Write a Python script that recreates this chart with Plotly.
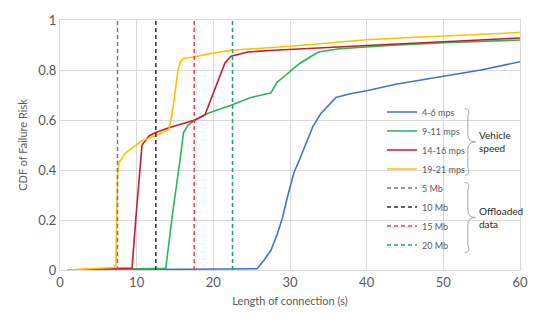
import plotly.graph_objects as go

# Empirical CDFs of failure risk versus connection length, per vehicle speed
speed_labels = ["4-6 mps", "9-11 mps", "14-16 mps", "19-21 mps"]
speed_colors = ["#4472C4", "#2DB35A", "#C0202A", "#FFC000"]

x_4_6 = [1, 10, 20, 25.7, 26.5, 27.5, 28.3, 29, 29.6, 30.5, 31.3, 32, 33, 34, 35.2, 36, 37.7, 40, 43.8, 47.2, 50, 54.9, 60]
y_4_6 = [0, 0.002, 0.003, 0.005, 0.035, 0.078, 0.14, 0.207, 0.284, 0.388, 0.446, 0.5, 0.575, 0.625, 0.665, 0.69, 0.704, 0.717, 0.743, 0.762, 0.775, 0.80, 0.833]

x_9_11 = [1, 5, 10, 13.8, 14.6, 15.2, 15.7, 16.1, 16.7, 17.6, 19.3, 22.3, 24.9, 27.0, 27.5, 28.3, 30, 31.3, 33.7, 36.5, 42.9, 50, 60]
y_9_11 = [0, 0.003, 0.005, 0.007, 0.207, 0.33, 0.45, 0.549, 0.58, 0.6, 0.627, 0.659, 0.69, 0.705, 0.708, 0.75, 0.795, 0.827, 0.872, 0.885, 0.898, 0.909, 0.92]

x_14_16 = [1, 5, 9.4, 9.9, 10.5, 10.7, 11.6, 12.4, 14.2, 16.1, 17.6, 18.9, 20.2, 21.5, 22.3, 24.5, 27.9, 30, 35, 40, 45, 50, 55, 60]
y_14_16 = [0, 0.004, 0.008, 0.21, 0.44, 0.50, 0.536, 0.549, 0.569, 0.588, 0.60, 0.62, 0.724, 0.827, 0.855, 0.872, 0.879, 0.883, 0.89, 0.898, 0.905, 0.913, 0.92, 0.928]

x_19_21 = [1, 3, 5, 7, 7.3, 7.5, 7.7, 8.6, 9.5, 10.7, 12.4, 14.2, 14.6, 15.0, 15.4, 15.7, 16.1, 17.6, 19.7, 22.3, 25.7, 30, 35, 40, 45, 50, 55, 60]
y_19_21 = [0, 0.003, 0.006, 0.01, 0.02, 0.38, 0.43, 0.47, 0.49, 0.517, 0.536, 0.562, 0.62, 0.72, 0.80, 0.833, 0.846, 0.853, 0.866, 0.879, 0.885, 0.895, 0.908, 0.921, 0.929, 0.937, 0.944, 0.95]

speed_x = [x_4_6, x_9_11, x_14_16, x_19_21]
speed_y = [y_4_6, y_9_11, y_14_16, y_19_21]

# Connection length needed for each offloaded data size
data_labels = ["5 Mb", "10 Mb", "15 Mb", "20 Mb"]
data_lengths = [7.5, 12.5, 17.5, 22.5]
data_colors = ["#6E7B8B", "#2B2B2B", "#FF3B3B", "#1E9C78"]

x_ticks = [0, 10, 20, 30, 40, 50, 60]
y_ticks = [0, 0.2, 0.4, 0.6, 0.8, 1]
y_tick_text = ["0", "0.2", "0.4", "0.6", "0.8", "1"]

font_family = "Lato, 'Open Sans', sans-serif"
grey = "#595959"

fig = go.Figure()

for lbl, col, xs, ys in zip(speed_labels, speed_colors, speed_x, speed_y):
    fig.add_trace(go.Scatter(
        x=xs, y=ys, mode="lines", name=lbl,
        line=dict(color=col, width=1.6),
        legendgroup="speed",
    ))

for lbl, col, xv in zip(data_labels, data_colors, data_lengths):
    fig.add_trace(go.Scatter(
        x=[xv, xv], y=[0, 1], mode="lines", name=lbl,
        line=dict(color=col, width=1.5, dash="4px,3px"),
        legendgroup="data",
    ))

# Curly braces grouping the legend entries
def brace(x0, x1, y_top, y_bot):
    ym = (y_top + y_bot) / 2
    xm = (x0 + x1) / 2
    return (f"M {x0},{y_top} Q {x1},{y_top} {xm},{y_top - 0.03} "
            f"L {xm},{ym + 0.03} Q {xm},{ym} {x1 + 0.6},{ym} "
            f"Q {xm},{ym} {xm},{ym - 0.03} "
            f"L {xm},{y_bot + 0.03} Q {x1},{y_bot} {x0},{y_bot}")

shapes = [
    dict(type="path", xref="x", yref="y", path=brace(52.8, 53.6, 0.645, 0.38),
         line=dict(color="#A6A6A6", width=1)),
    dict(type="path", xref="x", yref="y", path=brace(52.8, 53.6, 0.35, 0.07),
         line=dict(color="#A6A6A6", width=1)),
]

annotations = [
    dict(x=54.4, y=0.513, xref="x", yref="y", text="Vehicle<br>speed",
         showarrow=False, xanchor="left", yanchor="middle", align="left",
         font=dict(family=font_family, size=10, color="#262626")),
    dict(x=54.4, y=0.21, xref="x", yref="y", text="Offloaded<br>data",
         showarrow=False, xanchor="left", yanchor="middle", align="left",
         font=dict(family=font_family, size=10, color="#262626")),
]

fig.update_layout(
    width=540, height=320,
    margin=dict(l=60, r=14, t=12, b=50),
    paper_bgcolor="white", plot_bgcolor="white",
    font=dict(family=font_family, color=grey),
    showlegend=True,
    legend=dict(
        x=0.70, y=0.69, xanchor="left", yanchor="top",
        bgcolor="rgba(0,0,0,0)",
        font=dict(family=font_family, size=9, color=grey),
        tracegroupgap=0, itemwidth=30,
    ),
    shapes=shapes,
    annotations=annotations,
    xaxis=dict(
        range=[0, 60], tickvals=x_ticks, showgrid=True, gridcolor="#D9D9D9",
        zeroline=False, showline=True, linecolor="#D9D9D9", mirror=True,
        ticks="", tickfont=dict(size=13, color=grey),
        title=dict(text="Length of connection (s)", font=dict(size=11, color=grey), standoff=8),
    ),
    yaxis=dict(
        range=[0, 1], tickvals=y_ticks, ticktext=y_tick_text, showgrid=True,
        gridcolor="#D9D9D9", zeroline=False, showline=True, linecolor="#D9D9D9",
        mirror=True, ticks="", tickfont=dict(size=13, color=grey),
        title=dict(text="CDF of Failure Risk", font=dict(size=11, color=grey), standoff=8),
    ),
)

fig.write_html("out.html")
